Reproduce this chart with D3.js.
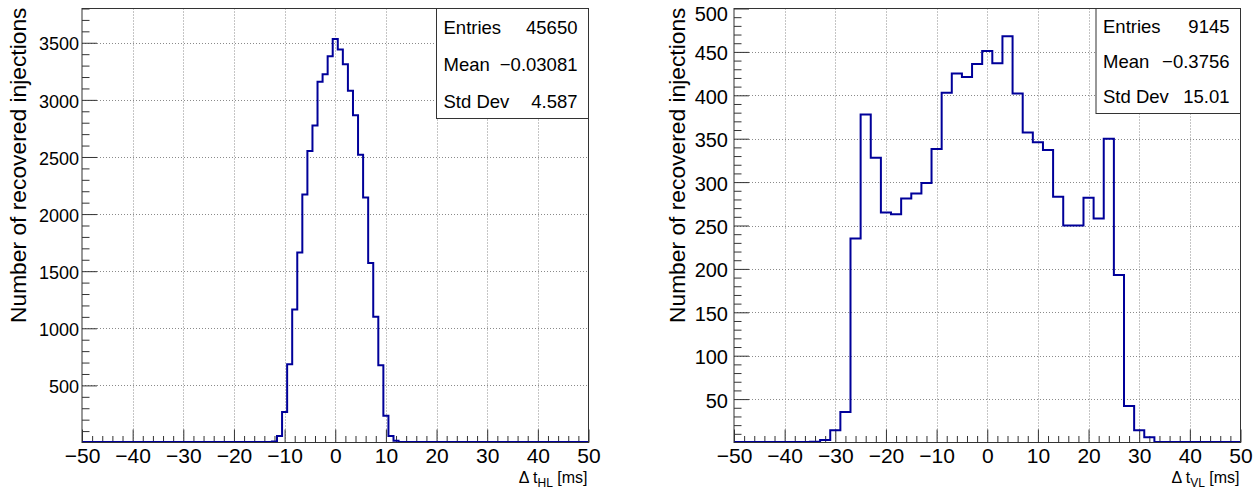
<!DOCTYPE html>
<html>
<head>
<meta charset="utf-8">
<script src="https://cdn.jsdelivr.net/npm/d3@7"></script>
<style>
  body { margin: 0; background: #fff; }
  text { font-family: "Liberation Sans", Arial, Helvetica, sans-serif; fill: #000; }
</style>
</head>
<body>
<div id="chart"></div>
<script>
// Left panel: delta t H-L, 1 ms bins centred on integers
const hlCenters = [-14, -13, -12, -11, -10, -9, -8, -7, -6, -5, -4, -3, -2, -1, 0,
    1, 2, 3, 4, 5, 6, 7, 8, 9, 10, 11, 12, 13];
const hlCounts = [2, 4, 8, 56, 266, 686, 1165, 1663, 2171, 2552, 2776, 3159, 3224, 3381, 3532,
    3440, 3311, 3080, 2866, 2520, 2145, 1572, 1100, 677, 234, 56, 15, 5];
const hlStats = ["45650", "\u22120.03081", "4.587"];
const hlYTicks = [500, 1000, 1500, 2000, 2500, 3000, 3500];

// Right panel: delta t V-L, 2 ms bins centred on even numbers
const vlCenters = [-34, -32, -30, -28, -26, -24, -22, -20, -18, -16, -14, -12, -10, -8, -6, -4, -2,
    0, 2, 4, 6, 8, 10, 12, 14, 16, 18, 20, 22, 24, 26, 28, 30, 32];
const vlCounts = [1, 3, 14, 35, 235, 378, 328, 265, 263, 281, 287, 299, 338, 403, 425, 421, 436,
    451, 437, 468, 402, 357, 346, 337, 283, 250, 250, 282, 258, 350, 193, 42, 14, 6];
const vlStats = ["9145", "\u22120.3756", "15.01"];
const vlYTicks = [50, 100, 150, 200, 250, 300, 350, 400, 450, 500];

const statLabels = ["Entries", "Mean", "Std Dev"];
const xTicks = [-50, -40, -30, -20, -10, 0, 10, 20, 30, 40, 50];

const plotTop = 8.5, plotBottom = 442.5;
const frameColor = "#333";
const histColor = "#000099";

const svg = d3.select("#chart").append("svg")
    .attr("width", 1256)
    .attr("height", 491);

function drawPanel(p) {
    const x = d3.scaleLinear().domain([-50, 50]).range([p.left, p.right]).clamp(true);
    const y = d3.scaleLinear().domain([0, p.yMax]).range([plotBottom, plotTop]);
    const g = svg.append("g");

    // dotted grid at the major ticks
    g.selectAll(".gx")
        .data(xTicks.filter(d => d > -50 && d < 50))
        .enter().append("line")
        .attr("x1", d => Math.round(x(d)) + 0.5).attr("x2", d => Math.round(x(d)) + 0.5)
        .attr("y1", plotTop).attr("y2", plotBottom)
        .attr("stroke", "#8a8a8a").attr("stroke-dasharray", "1,2");
    g.selectAll(".gy")
        .data(p.yTicks.filter(d => d < p.yMax))
        .enter().append("line")
        .attr("x1", p.left).attr("x2", p.right)
        .attr("y1", d => Math.round(y(d)) + 0.5).attr("y2", d => Math.round(y(d)) + 0.5)
        .attr("stroke", "#8a8a8a").attr("stroke-dasharray", "1,2");

    // x axis: major + minor ticks pointing inward
    const minorX = d3.range(-50, 50.1, 2).filter(d => d % 10 !== 0);
    g.append("g")
        .attr("transform", `translate(0,${plotBottom})`)
        .call(d3.axisBottom(x).tickValues(minorX).tickSize(-6.5).tickFormat(""))
        .call(a => a.select(".domain").remove())
        .selectAll("line").attr("stroke", frameColor);
    const xAxis = g.append("g")
        .attr("transform", `translate(0,${plotBottom})`)
        .call(d3.axisBottom(x).tickValues(xTicks).tickSize(-13).tickPadding(6).tickFormat(d3.format("d")));
    xAxis.select(".domain").remove();
    xAxis.attr("font-family", null).attr("font-size", 21);
    xAxis.selectAll("line").attr("stroke", frameColor);

    // y axis
    const minorY = d3.range(0, p.yMax + 0.1, p.yMinorStep).filter(d => p.yTicks.indexOf(d) < 0 && d > 0);
    g.append("g")
        .attr("transform", `translate(${p.left},0)`)
        .call(d3.axisLeft(y).tickValues(minorY).tickSize(-7.5).tickFormat(""))
        .call(a => a.select(".domain").remove())
        .selectAll("line").attr("stroke", frameColor);
    const yAxis = g.append("g")
        .attr("transform", `translate(${p.left},0)`)
        .call(d3.axisLeft(y).tickValues(p.yTicks).tickSize(-15).tickPadding(p.yPad).tickFormat(d3.format("d")));
    yAxis.select(".domain").remove();
    yAxis.attr("font-family", null).attr("font-size", p.yFont);
    yAxis.selectAll("line").attr("stroke", frameColor);
    // top label is pushed down a little so it stays inside the canvas
    yAxis.selectAll("text").attr("dy", d => d === p.yMax ? "0.58em" : "0.4em");

    // histogram outline over the whole axis range
    const counts = new Map(p.centers.map((c, i) => [c, p.counts[i]]));
    const half = p.binWidth / 2;
    const bins = d3.range(-50, 50 + 0.01, p.binWidth);
    const pts = bins.map(c => [c - half, counts.get(c) || 0]);
    pts.push([bins[bins.length - 1] + half, counts.get(bins[bins.length - 1]) || 0]);
    const line = d3.line()
        .x(d => x(d[0]))
        .y(d => Math.min(y(d[1]), plotBottom - 0.5))
        .curve(d3.curveStepAfter);
    g.append("path")
        .datum(pts)
        .attr("d", line)
        .attr("fill", "none")
        .attr("stroke", histColor)
        .attr("stroke-width", 2);

    // frame
    g.append("rect")
        .attr("x", p.left).attr("y", plotTop)
        .attr("width", p.right - p.left).attr("height", plotBottom - plotTop)
        .attr("fill", "none").attr("stroke", frameColor);

    // stats box
    const box = g.append("g");
    box.append("rect")
        .attr("x", p.boxLeft).attr("y", plotTop)
        .attr("width", p.right - p.boxLeft).attr("height", p.boxHeight)
        .attr("fill", "#fff").attr("stroke", frameColor);
    statLabels.forEach((lab, i) => {
        box.append("text")
            .attr("x", p.boxLeft + 7).attr("y", p.statY[i])
            .attr("font-size", 18.5)
            .text(lab);
        box.append("text")
            .attr("x", p.right - 11).attr("y", p.statY[i])
            .attr("text-anchor", "end")
            .attr("font-size", 18.5)
            .text(p.stats[i]);
    });

    // axis titles
    g.append("text")
        .attr("transform", `translate(${p.yTitleX},${plotTop - 1}) rotate(-90)`)
        .attr("text-anchor", "end")
        .attr("font-size", 22.8)
        .text("Number of recovered injections");

    const xt = g.append("text")
        .attr("x", p.right - 1).attr("y", 483)
        .attr("text-anchor", "end")
        .attr("font-size", 16);
    xt.append("tspan").text("\u0394 t");
    xt.append("tspan").attr("font-size", 12).attr("dy", 4).text(p.sub);
    xt.append("tspan").attr("dy", -4).text(" [ms]");
}

drawPanel({
    left: 82, right: 588.5, yMax: 3800, yTicks: hlYTicks, yMinorStep: 100,
    yPad: 3, yFont: 18, yTitleX: 26,
    centers: hlCenters, counts: hlCounts, binWidth: 1,
    boxLeft: 436.5, boxHeight: 110, statY: [34, 71, 108], stats: hlStats,
    sub: "HL"
});

drawPanel({
    left: 734, right: 1240.5, yMax: 500, yTicks: vlYTicks, yMinorStep: 10,
    yPad: 6, yFont: 20, yTitleX: 685,
    centers: vlCenters, counts: vlCounts, binWidth: 2,
    boxLeft: 1096, boxHeight: 105, statY: [33, 68, 103], stats: vlStats,
    sub: "VL"
});
</script>
</body>
</html>
